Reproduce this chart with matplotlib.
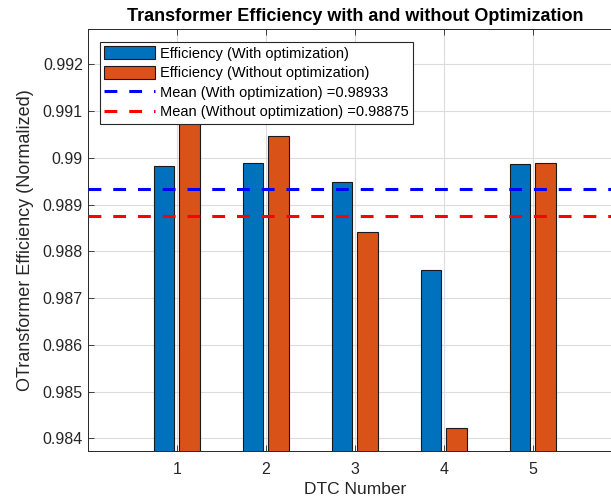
import matplotlib
matplotlib.use('Agg')
import matplotlib.pyplot as plt
import numpy as np

# Data
dtc = [1, 2, 3, 4, 5]
eff_with = [0.98983, 0.98988, 0.98948, 0.98761, 0.98986]
eff_without = [0.99075, 0.99047, 0.98841, 0.98423, 0.98989]
yticks = [0.984, 0.985, 0.986, 0.987, 0.988, 0.989, 0.99, 0.991, 0.992]
ytick_labels = ['0.984', '0.985', '0.986', '0.987', '0.988', '0.989', '0.99', '0.991', '0.992']

plt.rcParams['font.family'] = ['Liberation Sans', 'DejaVu Sans']

blue = '#0072BD'
orange = '#D95319'
axis_col = '#262626'

fig = plt.figure(figsize=(6.11, 5.04), dpi=100)
ax = fig.add_axes([0.1435, 0.1058, 0.8745, 0.8361])

x = np.array(dtc)
off = 0.143
w = 0.229
b1 = ax.bar(x - off, eff_with, width=w, color=blue, edgecolor='#1a1a1a', linewidth=0.8,
            label='Efficiency (With optimization)', zorder=2)
b2 = ax.bar(x + off, eff_without, width=w, color=orange, edgecolor='#1a1a1a', linewidth=0.8,
            label='Efficiency (Without optimization)', zorder=2)

mean_with = np.mean(eff_with)
mean_without = np.mean(eff_without)
l1 = ax.axhline(mean_with, color='#0000FF', linewidth=2.2, linestyle=(0, (4.2, 3.9)),
                label='Mean (With optimization) =%.5f' % mean_with, zorder=3)
l2 = ax.axhline(mean_without, color='#FF0000', linewidth=2.2, linestyle=(0, (4.2, 3.9)),
                label='Mean (Without optimization) =%.5f' % mean_without, zorder=3)

ax.set_xlim(0, 6)
ax.set_ylim(0.983735, 0.99275)
ax.set_xticks(dtc)
ax.set_yticks(yticks)
ax.set_yticklabels(ytick_labels)
ax.tick_params(direction='in', length=4, colors=axis_col, labelsize=11.5,
               top=True, right=True, width=0.6)
ax.tick_params(axis='x', pad=8)
for lab in ax.get_xticklabels() + ax.get_yticklabels():
    lab.set_color('#262626')

ax.grid(True, color='#dcdcdc', linewidth=0.8, zorder=0)
ax.set_axisbelow(True)
for s in ax.spines.values():
    s.set_color(axis_col)
    s.set_linewidth(0.7)

ax.set_xlabel('DTC Number', fontsize=12.5, color='#262626')
ax.set_ylabel('OTransformer Efficiency (Normalized)', fontsize=13, color='#262626', labelpad=6)
ax.set_title('Transformer Efficiency with and without Optimization',
             fontsize=13, fontweight='bold', color='#000000', pad=6)

leg = ax.legend([b1, b2, l1, l2], [b1.get_label(), b2.get_label(), l1.get_label(), l2.get_label()],
                loc='upper left', bbox_to_anchor=(0.023, 0.9706), fontsize=10.5,
                fancybox=False, framealpha=1, edgecolor='#262626',
                handlelength=3.5, handleheight=1.0, handletextpad=0.3,
                borderpad=0.3, labelspacing=0.35, borderaxespad=0)
leg.get_frame().set_linewidth(0.8)

fig.savefig('out.png', dpi=100)
